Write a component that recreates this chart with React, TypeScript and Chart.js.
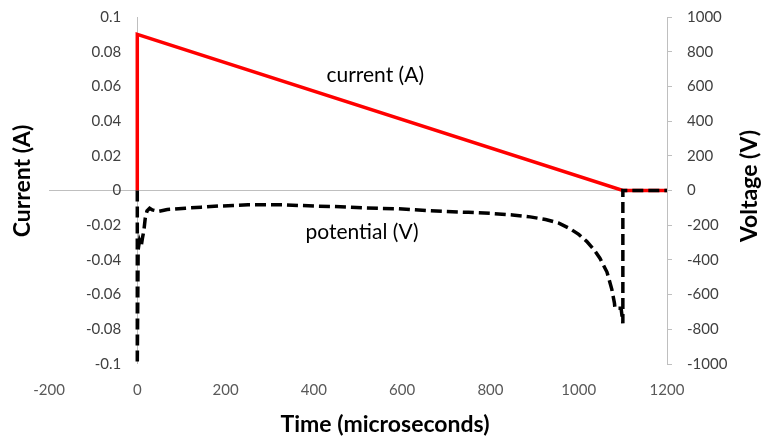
import React, { useEffect, useRef } from "react";
import { Chart, registerables } from "chart.js";

Chart.register(...registerables);

// ---- data ----
const currentTimes = [0, 0, 1100, 1200];
const currentValues = [0, 0.09, 0, 0];

const potentialTimes = [
  0, 0, 2, 5, 9, 12, 15, 18, 22, 28, 34, 48, 68, 109, 145, 183, 217, 251, 290, 328,
  364, 403, 439, 478, 516, 553, 591, 629, 659, 700, 750, 800, 850, 890, 925, 955,
  980, 1000, 1018, 1035, 1048, 1064, 1075, 1081, 1082, 1096, 1100, 1100, 1200,
];
const potentialValues = [
  0, -1000, -340, -290, -320, -270, -230, -160, -118, -102, -112, -120, -110, -102, -96, -90, -86, -82, -82, -82,
  -86, -90, -92, -96, -100, -103, -105, -111, -116, -121, -126, -132, -141, -152, -167, -188,
  -220, -253, -293, -342, -390, -470, -570, -650, -678, -678, -765, 0, 0,
];

const xTickValues = [-200, 0, 200, 400, 600, 800, 1000, 1200];
const seriesLabels = ["current (A)", "potential (V)"];
const labelTimes = [539, 509];
const labelValues = [0.0663, -242];
const labelAxes = ["y", "y1"];

const xTitle = "Time (microseconds)";
const leftTitle = "Current (A)";
const rightTitle = "Voltage (V)";

const FONT = "Lato";
const AXIS_GRAY = "#BFBFBF";

const textPlugin = {
  id: "textPlugin",
  afterDatasetsDraw(chart: any) {
    const { ctx, scales } = chart;
    ctx.save();
    ctx.fillStyle = "#000000";
    ctx.textAlign = "center";
    ctx.textBaseline = "middle";
    ctx.font = `21px ${FONT}`;
    seriesLabels.forEach((txt, i) => {
      const x = scales.x.getPixelForValue(labelTimes[i]);
      const y = scales[labelAxes[i]].getPixelForValue(labelValues[i]);
      ctx.fillText(txt, x, y);
    });
    ctx.font = `bold 23px ${FONT}`;
    ctx.fillText(xTitle, 385, 425);

    ctx.save();
    ctx.translate(23, 181);
    ctx.rotate(-Math.PI / 2);
    ctx.fillText(leftTitle, 0, 0);
    ctx.restore();

    ctx.save();
    ctx.translate(750, 186);
    ctx.rotate(-Math.PI / 2);
    ctx.fillText(rightTitle, 0, 0);
    ctx.restore();

    ctx.restore();
  },
};

export default function App() {
  const canvasRef = useRef<HTMLCanvasElement | null>(null);

  useEffect(() => {
    if (!canvasRef.current) return;
    const chart = new Chart(canvasRef.current, {
      type: "line",
      data: {
        datasets: [
          {
            label: "potential (V)",
            data: potentialTimes.map((t, i) => ({ x: t, y: potentialValues[i] })),
            yAxisID: "y1",
            borderColor: "#000000",
            borderWidth: 3.5,
            borderDash: [11, 5],
            borderCapStyle: "butt",
            pointRadius: 0,
            tension: 0,
            fill: false,
          },
          {
            label: "current (A)",
            data: currentTimes.map((t, i) => ({ x: t, y: currentValues[i] })),
            yAxisID: "y",
            borderColor: "#FF0000",
            borderWidth: 3.5,
            pointRadius: 0,
            tension: 0,
            fill: false,
          },
        ],
      },
      options: {
        animation: false,
        responsive: true,
        maintainAspectRatio: false,
        layout: { padding: { top: 17, left: 0, right: 0, bottom: 0 } },
        plugins: { legend: { display: false }, tooltip: { enabled: false } },
        scales: {
          x: {
            type: "linear",
            position: "bottom",
            min: -200,
            max: 1200,
            afterBuildTicks: (scale: any) => {
              scale.ticks = xTickValues.map((v) => ({ value: v }));
            },
            afterFit: (scale: any) => {
              scale.height = 77;
            },
            border: { display: false },
            grid: {
              drawTicks: false,
              color: (ctx: any) => (ctx.tick && ctx.tick.value === 0 ? AXIS_GRAY : "rgba(0,0,0,0)"),
              lineWidth: 1,
            },
            ticks: {
              padding: 17,
              color: "#595959",
              font: { family: FONT, size: 15 },
              maxRotation: 0,
              callback: (v: any) => String(v),
            },
          },
          y: {
            type: "linear",
            position: "left",
            min: -0.1,
            max: 0.1,
            afterFit: (scale: any) => {
              scale.width = 49;
              scale.paddingTop = 0;
              scale.paddingBottom = 0;
            },
            border: { display: false },
            grid: {
              drawTicks: false,
              color: (ctx: any) =>
                ctx.tick && Math.abs(ctx.tick.value) < 1e-9 ? AXIS_GRAY : "rgba(0,0,0,0)",
              lineWidth: 1,
            },
            ticks: {
              stepSize: 0.02,
              mirror: true,
              crossAlign: "far",
              padding: 37,
              color: "#404040",
              font: { family: FONT, size: 15 },
              callback: (v: any) => String(Number(Number(v).toFixed(2))),
            },
          },
          y1: {
            type: "linear",
            position: "right",
            min: -1000,
            max: 1000,
            afterFit: (scale: any) => {
              scale.width = 99;
              scale.paddingTop = 0;
              scale.paddingBottom = 0;
            },
            border: { display: true, color: AXIS_GRAY, width: 1 },
            grid: {
              drawOnChartArea: false,
              drawTicks: true,
              tickLength: 5,
              color: AXIS_GRAY,
            },
            ticks: {
              stepSize: 200,
              padding: 15,
              color: "#404040",
              font: { family: FONT, size: 15 },
              callback: (v: any) => String(v),
            },
          },
        },
      },
      plugins: [textPlugin],
    } as any);
    return () => chart.destroy();
  }, []);

  return (
    <div style={{ position: "fixed", left: 0, top: 0, width: 766, height: 441, background: "#ffffff" }}>
      <canvas ref={canvasRef} />
    </div>
  );
}
